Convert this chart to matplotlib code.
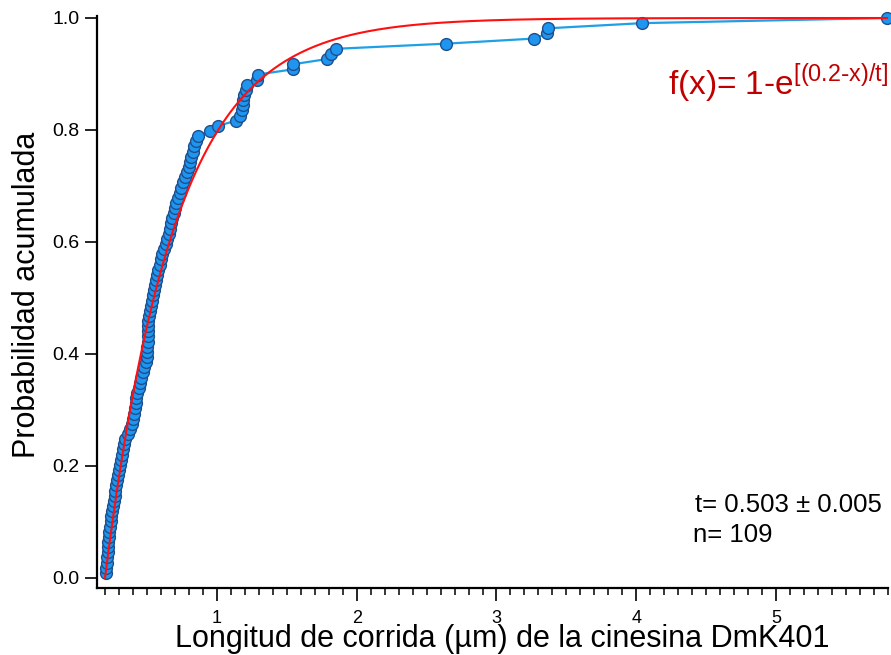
import numpy as np
import matplotlib
matplotlib.use("Agg")
import matplotlib.pyplot as plt
from matplotlib.ticker import MultipleLocator

plt.rcParams['font.family'] = ['Liberation Sans', 'DejaVu Sans']

# Run lengths (µm) of kinesin DmK401, sorted (read from the ECDF)
run_lengths = [
    0.204, 0.207, 0.212, 0.215, 0.218, 0.220, 0.222, 0.227, 0.231, 0.236,
    0.241, 0.245, 0.249, 0.255, 0.261, 0.268, 0.275, 0.282, 0.289, 0.295,
    0.300, 0.305, 0.312, 0.324, 0.331, 0.339, 0.346, 0.361, 0.376, 0.391,
    0.399, 0.406, 0.412, 0.419, 0.425, 0.432, 0.440, 0.451, 0.461, 0.472,
    0.481, 0.491, 0.500, 0.501, 0.502, 0.504, 0.504, 0.505, 0.506, 0.507,
    0.516, 0.522, 0.529, 0.539, 0.546, 0.553, 0.559, 0.566, 0.572, 0.579,
    0.590, 0.601, 0.611, 0.625, 0.636, 0.647, 0.656, 0.664, 0.673, 0.681,
    0.690, 0.699, 0.709, 0.721, 0.734, 0.746, 0.759, 0.772, 0.785, 0.800,
    0.809, 0.817, 0.826, 0.839, 0.853, 0.866, 0.950, 1.007, 1.136, 1.164,
    1.179, 1.186, 1.189, 1.193, 1.207, 1.214, 1.286, 1.293, 1.543, 1.546,
    1.786, 1.814, 1.850, 2.636, 3.271, 3.364, 3.371, 4.043, 5.793,
]

# Fit parameters
x0 = 0.2
t_fit = 0.503
t_err = 0.005

xs = np.sort(np.array(run_lengths))
n = len(xs)
ecdf = np.arange(1, n + 1) / n

fig = plt.figure(figsize=(8.91, 6.55), dpi=100)
ax = fig.add_axes([0.1089, 0.1023, 0.8877, 0.8733])

ax.plot(xs, ecdf, '-', color='#1FA0E6', lw=1.6, zorder=2)
ax.plot(xs, ecdf, 'o', ms=8.5, mfc='#1E96F0', mec='#1F4E8C', mew=1.0,
        zorder=3, clip_on=False)

xf = np.linspace(x0, 5.8, 600)
ax.plot(xf, 1 - np.exp((x0 - xf) / t_fit), color='#FF1010', lw=1.5, zorder=4)

ax.set_xlim(0.143, 5.80)
ax.set_ylim(-0.018, 1.0036)

for s in ['top', 'right']:
    ax.spines[s].set_visible(False)
for s in ['left', 'bottom']:
    ax.spines[s].set_linewidth(1.6)

ax.set_yticks([0.0, 0.2, 0.4, 0.6, 0.8, 1.0])
ax.set_yticklabels(['0.0', '0.2', '0.4', '0.6', '0.8', '1.0'])
ax.xaxis.set_major_locator(MultipleLocator(1))
ax.xaxis.set_minor_locator(MultipleLocator(0.1))
ax.tick_params(axis='y', direction='out', length=9, width=1.2, labelsize=14, pad=3.5)
ax.tick_params(axis='x', which='major', direction='out', length=9.5, width=1.2,
               labelsize=13, pad=6)
ax.tick_params(axis='x', which='minor', direction='out', length=5, width=1.1)

ax.set_xlabel('Longitud de corrida (µm) de la cinesina DmK401', fontsize=22,
              va='baseline')
ax.xaxis.set_label_coords(0.5126, -0.103)
ax.set_ylabel('Probabilidad acumulada', fontsize=22, va='center')
ax.yaxis.set_label_coords(-0.089, 0.512)

fig.text(668 / 891, 1 - 95 / 655, r'f(x)= 1-e$^{\mathregular{[(0.2\text{-}x)/t]}}$',
         color='#C00000', fontsize=24, ha='left', va='baseline')
fig.text(695 / 891, 1 - 505 / 655, f't= {t_fit:.3f} ± {t_err:.3f}',
         fontsize=18.5, ha='left', va='center')
fig.text(693 / 891, 1 - 535 / 655, f'n= {n}', fontsize=18.5, ha='left', va='center')

fig.savefig('out.png', dpi=100)
